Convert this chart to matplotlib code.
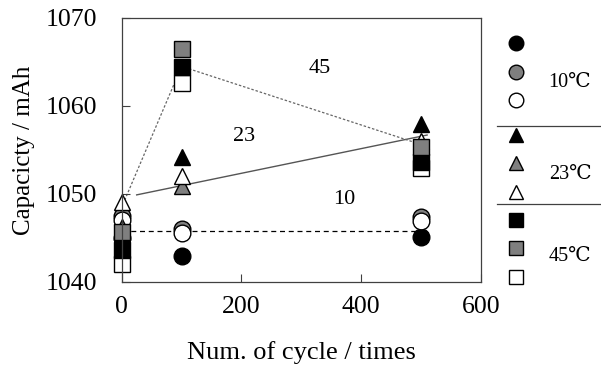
import matplotlib.pyplot as plt
from matplotlib.lines import Line2D

plt.rcParams['font.family'] = ['Liberation Serif', 'DejaVu Serif', 'Noto Sans CJK JP']

cycles = [0, 100, 500]

# 10 degC
c10_black = [1045.0, 1043.0, 1045.1]
c10_grey = [1047.5, 1046.0, 1047.4]
c10_white = [1047.0, 1045.6, 1046.9]
# 23 degC
c23_black = [1045.5, 1054.2, 1058.0]
c23_grey = [1046.3, 1050.9, 1055.5]
c23_white = [1049.1, 1052.0, 1056.0]
# 45 degC
c45_black = [1043.6, 1064.4, 1053.6]
c45_grey = [1045.7, 1066.5, 1055.3]
c45_white = [1042.1, 1062.6, 1053.0]

# guide lines
line10_x = [0, 500]
line10_y = [1045.8, 1045.8]
line23_x = [25, 510]
line23_y = [1049.9, 1056.7]
line45_x = [5, 100, 510]
line45_y = [1049.3, 1064.5, 1055.4]

area_labels = ['45', '23', '10']
area_x = [331, 205, 372]
area_y = [1064.3, 1056.5, 1049.4]

temp_labels = ['10℃', '23℃', '45℃']

GREY = '#7f7f7f'
fills = ['black', GREY, 'white']

fig = plt.figure(figsize=(6.01, 3.67), dpi=100)
ax = fig.add_axes([121.7 / 601, 1 - 282 / 367, 359.3 / 601, 264 / 367])

ax.plot(line10_x, line10_y, color='black', lw=0.9, ls=(0, (4, 3)), zorder=1)
ax.plot(line23_x, line23_y, color='#555555', lw=1.0, zorder=1)
ax.plot(line45_x, line45_y, color='#666666', lw=0.9, ls=(0, (2, 1.5)), zorder=1)

series = [
    ('o', [c10_black, c10_grey, c10_white]),
    ('^', [c23_black, c23_grey, c23_white]),
    ('s', [c45_white, c45_black, c45_grey]),
]
for marker, ys in series:
    cols = fills if marker != 's' else ['white', 'black', GREY]
    for y, fc in zip(ys, cols):
        ax.plot(cycles, y, ls='none', marker=marker, ms=12, mfc=fc,
                mec='black', mew=1.0, clip_on=False, zorder=2)

for t, x, y in zip(area_labels, area_x, area_y):
    ax.text(x, y, t, fontsize=16, ha='center', va='center')

ax.set_xlim(0, 600)
ax.set_ylim(1040, 1070)
ax.set_xticks([0, 200, 400, 600])
ax.set_yticks([1040, 1050, 1060, 1070])
ax.tick_params(direction='in', length=6, width=0.8, color='#404040',
               labelsize=18.5)
ax.tick_params(axis='x', pad=10)
ax.tick_params(axis='y', pad=18)
for s in ax.spines.values():
    s.set_color('#404040')
    s.set_linewidth(0.9)
ax.set_xlabel('Num. of cycle / times', fontsize=19, labelpad=17)
ax.set_ylabel('Capacicty / mAh', fontsize=18, labelpad=7)

# grouped legend on the right, laid out in pixel units
lg = fig.add_axes([0, 0, 1, 1], facecolor='none')
lg.set_xlim(0, 601)
lg.set_ylim(367, 0)
lg.axis('off')
row_y = [43, 72, 100, 135, 163, 192, 220, 248, 277]
label_y = [82, 174, 256]
markers = ['o', '^', 's']
for i, m in enumerate(markers):
    for j, fc in enumerate(fills):
        lg.plot([516], [row_y[3 * i + j]], marker=m, ms=10.5, mfc=fc,
                mec='black', mew=1.0, ls='none')
    lg.text(570, label_y[i], temp_labels[i], fontsize=14.5,
            ha='center', va='center')
for yy in [126, 204]:
    lg.add_line(Line2D([497, 601], [yy, yy], color='#404040', lw=0.9))

fig.savefig('out.png', dpi=100)
